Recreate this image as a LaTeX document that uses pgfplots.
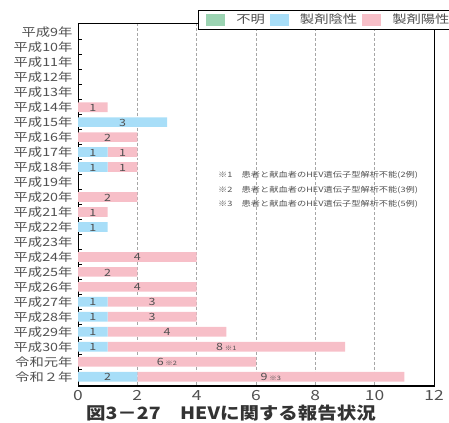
\documentclass[border=0pt]{standalone}
\usepackage{pgfplots}
\pgfplotsset{compat=1.18}
\usepackage{fontspec}
\setmainfont{Noto Sans CJK JP}[FakeStretch=1.25]
\newfontfamily\titlefont{Noto Sans CJK JP}[FakeStretch=1.15]
\definecolor{cgreen}{RGB}{155,211,178}
\definecolor{cblue}{RGB}{168,222,248}
\definecolor{cpink}{RGB}{247,191,200}
\definecolor{txt}{RGB}{80,80,80}
\begin{document}
\begin{tikzpicture}
\useasboundingbox (0bp,0bp) rectangle (449bp,-423bp);
\pgfplotsset{common/.style={
  at={(78bp,-386bp)}, anchor=south west, scale only axis,
  width=356bp, height=363bp,
  xmin=0, xmax=12, ymin=-0.62, ymax=23.62, y dir=reverse}}
\begin{axis}[common,
  xbar stacked, bar width=9.7bp,
  xtick={0,2,...,12},
  xmajorgrids, grid style={densely dashed, gray!70, line width=0.5bp},
  ytick={0,...,23},
  yticklabels={平成9年,平成10年,平成11年,平成12年,平成13年,平成14年,平成15年,平成16年,平成17年,平成18年,平成19年,平成20年,平成21年,平成22年,平成23年,平成24年,平成25年,平成26年,平成27年,平成28年,平成29年,平成30年,令和元年,令和２年},
  minor y tick num=1, major tick length=0pt, minor tick length=4bp,
  tick align=inside, ytick pos=left, xtick pos=bottom,
  minor tick style={black, line width=0.6bp},
  axis line style={black, line width=0.6bp},
  /pgf/number format/assume math mode=true,
  yticklabel style={font=\fontsize{11.5}{12}\selectfont, text=txt, xshift=-2bp},
  xticklabel style={font=\fontsize{14}{14}\selectfont, text=txt, yshift=-1bp},
  legend style={at={(rel axis cs:0.337,1.036)}, anchor=north west,
    legend columns=3, draw=black, line width=0.8bp, fill=white,
    font=\fontsize{11.5}{13}\selectfont, text=txt,
    inner xsep=8bp, inner ysep=2bp,
    /tikz/every odd column/.append style={column sep=9bp},
    /tikz/every even column/.append style={column sep=3bp}},
  legend image code/.code={\fill[#1] (0bp,-6bp) rectangle (19bp,6bp);},
]
\addplot[fill=cgreen, draw=none] coordinates {
(0,0) (0,1) (0,2) (0,3) (0,4) (0,5) (0,6) (0,7) (0,8) (0,9) (0,10) (0,11)
(0,12) (0,13) (0,14) (0,15) (0,16) (0,17) (0,18) (0,19) (0,20) (0,21) (0,22) (0,23)};
\addlegendentry{不明}
\addplot[fill=cblue, draw=none] coordinates {
(0,0) (0,1) (0,2) (0,3) (0,4) (0,5) (3,6) (0,7) (1,8) (1,9) (0,10) (0,11)
(0,12) (1,13) (0,14) (0,15) (0,16) (0,17) (1,18) (1,19) (1,20) (1,21) (0,22) (2,23)};
\addlegendentry{製剤陰性}
\addplot[fill=cpink, draw=none] coordinates {
(0,0) (0,1) (0,2) (0,3) (0,4) (1,5) (0,6) (2,7) (1,8) (1,9) (0,10) (2,11)
(1,12) (0,13) (0,14) (4,15) (2,16) (4,17) (3,18) (3,19) (4,20) (8,21) (6,22) (9,23)};
\addlegendentry{製剤陽性}
\draw[black, line width=1.4bp] (rel axis cs:0,1) -- (rel axis cs:0,0) -- (rel axis cs:1,0);
\end{axis}
\begin{axis}[common, hide axis, clip=false]
\addplot[only marks, mark=none, nodes near coords, point meta=explicit symbolic,
  nodes near coords style={anchor=center, font=\fontsize{10}{10}\selectfont, text=txt, yshift=-0.5bp}]
coordinates {
(0.5,5) [1] (1.5,6) [3] (1,7) [2] (0.5,8) [1] (1.5,8) [1] (0.5,9) [1] (1.5,9) [1]
(1,11) [2] (0.5,12) [1] (0.5,13) [1] (2,15) [4] (1,16) [2] (2,17) [4]
(0.5,18) [1] (2.5,18) [3] (0.5,19) [1] (2.5,19) [3] (0.5,20) [1] (3,20) [4]
(0.5,21) [1] (5,21) [{8\,{\fontsize{6}{6}\selectfont ※1}}] (3,22) [{6\,{\fontsize{6}{6}\selectfont ※2}}]
(1,23) [2] (6.5,23) [{9\,{\fontsize{6}{6}\selectfont ※3}}]};
\end{axis}
\node[anchor=west, text=txt, font=\fontsize{7.4}{14.5}\selectfont, align=left, inner sep=0pt] at (218bp,-190bp)
{※1　患者と献血者のHEV遺伝子型解析不能(2例)\\※2　患者と献血者のHEV遺伝子型解析不能(3例)\\※3　患者と献血者のHEV遺伝子型解析不能(5例)};
\node[font=\titlefont\fontsize{17}{17}\selectfont\bfseries, text=black!80, inner sep=0pt] at (231bp,-413bp) {図3－27　HEVに関する報告状況};
\end{tikzpicture}
\end{document}
